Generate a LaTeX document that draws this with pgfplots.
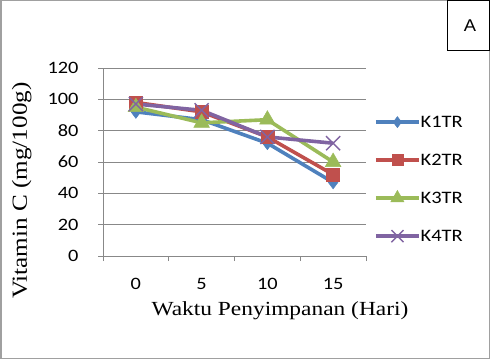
\documentclass[border=0pt]{standalone}
\usepackage{pgfplots}
\pgfplotsset{compat=1.18}
\usepackage{fontspec}
\setmainfont{Liberation Serif}[FakeStretch=1.17]
\newfontfamily\calib{Carlito}[FakeStretch=1.17]
\newfontfamily\arialf{Liberation Sans}[FakeStretch=1.08]
\definecolor{c1}{HTML}{4F81BD}
\definecolor{c2}{HTML}{C0504D}
\definecolor{c3}{HTML}{9BBB59}
\definecolor{c4}{HTML}{8064A2}
\definecolor{gr}{HTML}{888888}
\begin{document}
\begin{tikzpicture}[x=1bp,y=1bp]
\draw[gr!80, line width=1.5bp] (0.75,0.75) rectangle (489.25,358.25);
\draw[black, line width=1bp, fill=white] (447.5,309) rectangle (489,358.5);
\node[font=\arialf\fontsize{17bp}{20bp}\selectfont] at (470,333.5) {A};
\begin{axis}[
  at={(103bp,103bp)}, anchor=south west,
  scale only axis, width=263bp, height=188bp,
  xmin=-0.5, xmax=3.5, ymin=0, ymax=120,
  axis lines=left, axis line style={-, gr, line width=0.8bp},
  xtick={0,1,2,3}, xticklabels={0,5,10,15},
  minor xtick={-0.5,0.5,1.5,2.5,3.5},
  major x tick style={draw=none},
  minor x tick style={gr, line width=0.8bp},
  minor tick length=5bp,
  ytick={0,20,...,120},
  ymajorgrids, grid style={gr, line width=0.8bp},
  major tick length=5bp,
  y tick style={gr, line width=0.8bp},
  tick align=outside,
  ticklabel style={font=\calib\fontsize{17.4bp}{20bp}\selectfont},
  yticklabel style={xshift=-16bp},
  xticklabel style={yshift=-14bp},
  /pgf/number format/assume math mode=true,
  xlabel={Waktu Penyimpanan (Hari)},
  ylabel={Vitamin C (mg/100g)},
  every axis x label/.style={at={(axis description cs:0.673,-0.29)}, anchor=center, font=\fontsize{20bp}{24bp}\selectfont},
  every axis y label/.style={at={(axis description cs:-0.309,0.348)}, rotate=90, anchor=center, font=\fontsize{21.5bp}{26bp}\selectfont},
  legend style={at={(axis description cs:1.03,0.761)}, anchor=north west, draw=none, fill=none,
    font=\calib\fontsize{17.5bp}{22bp}\selectfont, row sep=20bp, inner sep=0pt,
    nodes={inner sep=0pt, text height=14bp, text depth=4bp},
    /tikz/column 2/.style={column sep=3bp}},
  legend cell align=left,
  legend image code/.code={
    \draw[#1, mark repeat=2, mark phase=2] plot coordinates {(0bp,0bp) (21.5bp,0bp) (43bp,0bp)};
  },
  legend image post style={/tikz/every mark/.append style={scale=0.85}},
  every axis plot/.append style={line width=3.6bp},
  clip=false,
]
\addplot[c1, mark=diamond*, mark size=6.5bp, mark options={solid, line width=0.5bp}] coordinates {(0,92) (1,87) (2,72) (3,47)};
\addplot[c2, mark=square*, mark size=6.5bp, mark options={solid, line width=0.5bp}] coordinates {(0,98) (1,92) (2,76) (3,52)};
\addplot[c3, mark=triangle*, mark size=9bp, mark options={solid, line width=0.5bp}] coordinates {(0,95) (1,85) (2,87) (3,60)};
\addplot[c4, mark=x, mark size=10bp, mark options={solid, line width=1.4bp}] coordinates {(0,97) (1,93) (2,76) (3,72)};
\legend{K1TR,K2TR,K3TR,K4TR}
\end{axis}
\end{tikzpicture}
\end{document}
